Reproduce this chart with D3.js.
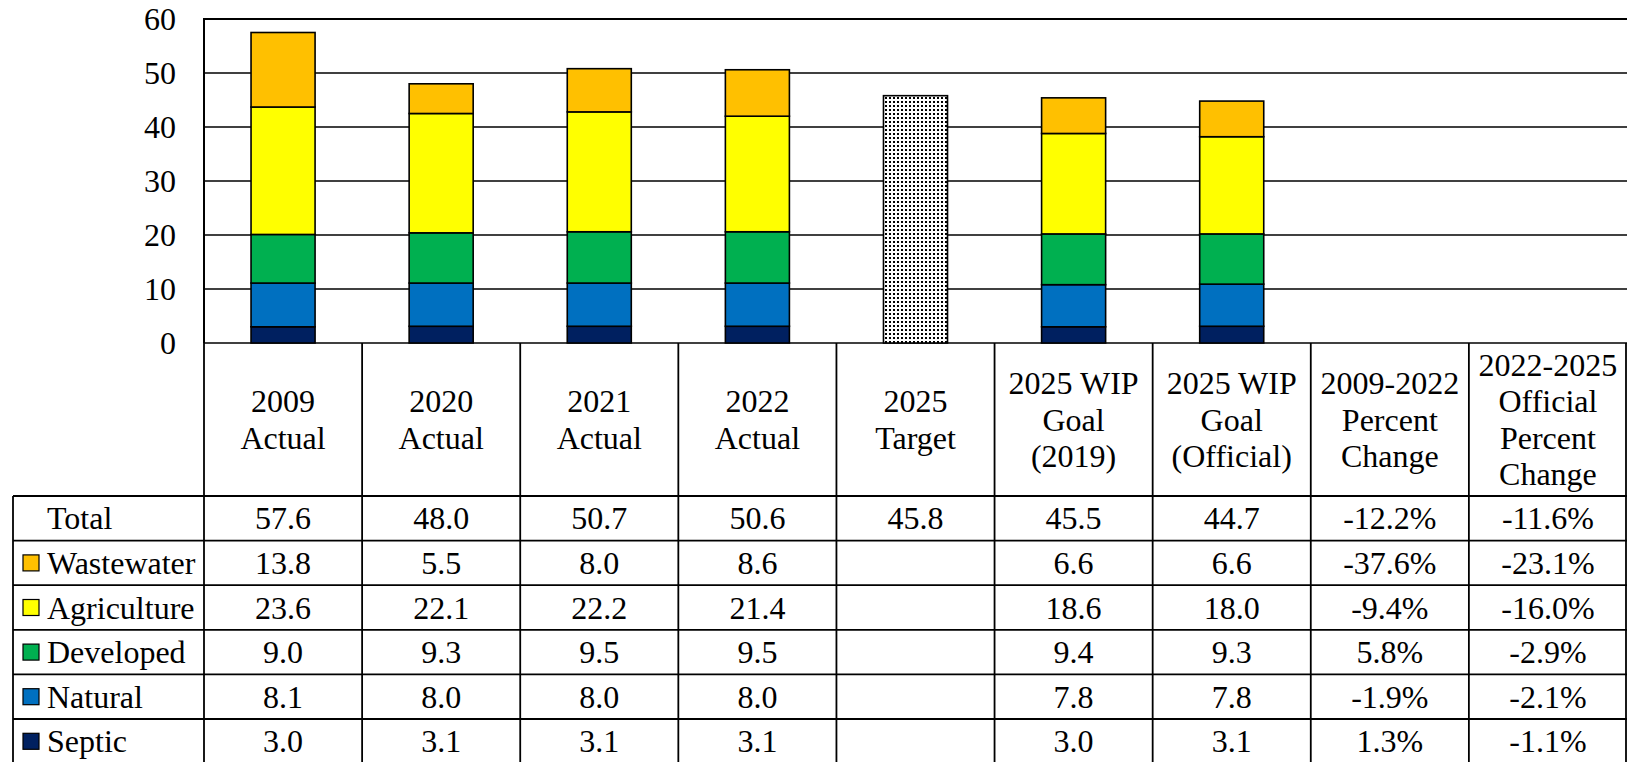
<!DOCTYPE html>
<html>
<head>
<meta charset="utf-8">
<script src="https://cdn.jsdelivr.net/npm/d3@7"></script>
<style>
  body { margin: 0; background: #fff; }
  svg { display: block; font-family: "Liberation Serif", "Times New Roman", serif; }
</style>
</head>
<body>
<svg width="1627" height="762"></svg>
<script>
// columns of the chart / table
var categories = ["2009 Actual", "2020 Actual", "2021 Actual", "2022 Actual", "2025 Target",
  "2025 WIP Goal (2019)", "2025 WIP Goal (Official)", "2009-2022 Percent Change", "2022-2025 Official Percent Change"];
var headerLines = [["2009", "Actual"], ["2020", "Actual"], ["2021", "Actual"], ["2022", "Actual"], ["2025", "Target"],
  ["2025 WIP", "Goal", "(2019)"], ["2025 WIP", "Goal", "(Official)"], ["2009-2022", "Percent", "Change"],
  ["2022-2025", "Official", "Percent", "Change"]];

// series values (bottom of stack first); null = no value
var septic      = [3.0, 3.1, 3.1, 3.1, null, 3.0, 3.1];
var natural     = [8.1, 8.0, 8.0, 8.0, null, 7.8, 7.8];
var developed   = [9.0, 9.3, 9.5, 9.5, null, 9.4, 9.3];
var agriculture = [23.6, 22.1, 22.2, 21.4, null, 18.6, 18.0];
var wastewater  = [13.8, 5.5, 8.0, 8.6, null, 6.6, 6.6];
var total       = [57.6, 48.0, 50.7, 50.6, 45.8, 45.5, 44.7];

// percent change columns (rows: Total, Wastewater, Agriculture, Developed, Natural, Septic)
var pct0922 = ["-12.2%", "-37.6%", "-9.4%", "5.8%", "-1.9%", "1.3%"];
var pct2225 = ["-11.6%", "-23.1%", "-16.0%", "-2.9%", "-2.1%", "-1.1%"];

var yTicks = [0, 10, 20, 30, 40, 50, 60];

var seriesNames = ["Septic", "Natural", "Developed", "Agriculture", "Wastewater"];
var seriesValues = [septic, natural, developed, agriculture, wastewater];
var colors = {Septic: "#002060", Natural: "#0070C0", Developed: "#00B050", Agriculture: "#FFFF00", Wastewater: "#FFC000"};

// table rows (top to bottom)
var rowNames = ["Total", "Wastewater", "Agriculture", "Developed", "Natural", "Septic"];
var rowValues = [total, wastewater, agriculture, developed, natural, septic];

var svg = d3.select("svg");
var plotLeft = 204, plotRight = 1627, plotTop = 19, zero = 343;
var headerBottom = 496, rowH = 44.6, tableLeft = 13;
var fs = 32;

var x = d3.scaleBand().domain(categories).range([plotLeft, plotRight]).padding(0);
var y = d3.scaleLinear().domain([0, 60]).range([zero, plotTop]);
var barW = x.bandwidth() * 0.405;

// dotted pattern for target bar
var pat = svg.append("defs").append("pattern")
  .attr("id", "dots").attr("patternUnits", "userSpaceOnUse")
  .attr("width", 4).attr("height", 4);
pat.append("rect").attr("width", 4).attr("height", 4).attr("fill", "#fff");
pat.append("rect").attr("x", 1).attr("y", 1).attr("width", 2).attr("height", 2).attr("fill", "#000");

// gridlines
svg.append("g").selectAll("line").data(yTicks).enter().append("line")
  .attr("x1", plotLeft).attr("x2", plotRight)
  .attr("y1", function(d) { return y(d); }).attr("y2", function(d) { return y(d); })
  .attr("stroke", "#000").attr("stroke-width", function(d) { return d == 60 ? 2.2 : 1.6; });
svg.append("line").attr("x1", plotLeft).attr("x2", plotLeft).attr("y1", plotTop - 1).attr("y2", zero)
  .attr("stroke", "#000").attr("stroke-width", 2);

// y tick labels
svg.append("g").selectAll("text").data(yTicks).enter().append("text")
  .attr("x", 176).attr("y", function(d) { return y(d) + 11; })
  .attr("text-anchor", "end").attr("font-size", fs).text(function(d) { return d; });

// stacked bars
var stackData = categories.slice(0, 7).map(function(c, i) {
  var o = {cat: c};
  seriesNames.forEach(function(s, j) { o[s] = seriesValues[j][i] || 0; });
  return o;
});
var stack = d3.stack().keys(seriesNames)(stackData);
svg.append("g").selectAll("g").data(stack).enter().append("g")
  .attr("fill", function(d) { return colors[d.key]; })
  .selectAll("rect").data(function(d) { return d.filter(function(p) { return p[1] > p[0]; }); })
  .enter().append("rect")
    .attr("x", function(d) { return x(d.data.cat) + (x.bandwidth() - barW) / 2; })
    .attr("y", function(d) { return y(d[1]); })
    .attr("width", barW)
    .attr("height", function(d) { return y(d[0]) - y(d[1]); })
    .attr("stroke", "#000").attr("stroke-width", 1.6);

// target bar (total only)
svg.append("g").selectAll("rect")
  .data(categories.slice(0, 7).filter(function(c, i) { return septic[i] == null; }))
  .enter().append("rect")
    .attr("x", function(c) { return x(c) + (x.bandwidth() - barW) / 2; })
    .attr("y", function(c) { return y(total[categories.indexOf(c)]); })
    .attr("width", barW)
    .attr("height", function(c) { return zero - y(total[categories.indexOf(c)]); })
    .attr("fill", "url(#dots)").attr("stroke", "#000").attr("stroke-width", 1.6);

// table
var tableBottom = headerBottom + rowH * rowNames.length;
var tg = svg.append("g");
var bounds = categories.map(function(c) { return x(c); }).concat([plotRight - 1]);
tg.selectAll(".vl").data(bounds).enter().append("line")
  .attr("x1", function(d) { return d; }).attr("x2", function(d) { return d; })
  .attr("y1", zero).attr("y2", tableBottom)
  .attr("stroke", "#000").attr("stroke-width", 1.8);
tg.append("line").attr("x1", tableLeft).attr("x2", tableLeft)
  .attr("y1", headerBottom).attr("y2", tableBottom)
  .attr("stroke", "#000").attr("stroke-width", 1.8);
tg.selectAll(".hl").data(d3.range(rowNames.length + 1)).enter().append("line")
  .attr("x1", tableLeft).attr("x2", plotRight)
  .attr("y1", function(i) { return headerBottom + i * rowH; })
  .attr("y2", function(i) { return headerBottom + i * rowH; })
  .attr("stroke", "#000").attr("stroke-width", 1.8);

// header text
var lineH = 36.5;
var headerMid = (zero + headerBottom) / 2;
categories.forEach(function(c, i) {
  var lines = headerLines[i];
  var t = tg.append("text").attr("text-anchor", "middle").attr("font-size", fs);
  lines.forEach(function(l, k) {
    t.append("tspan").attr("x", x(c) + x.bandwidth() / 2)
      .attr("y", headerMid - (lines.length - 1) / 2 * lineH + 11 + k * lineH)
      .text(l);
  });
});

// row labels with legend keys
rowNames.forEach(function(name, r) {
  var cy = headerBottom + r * rowH + rowH / 2;
  if (name != "Total") {
    tg.append("rect").attr("x", 23).attr("y", cy - 8).attr("width", 16).attr("height", 16)
      .attr("fill", colors[name]).attr("stroke", "#000").attr("stroke-width", 1.2);
  }
  tg.append("text").attr("x", 47).attr("y", cy + 11).attr("font-size", fs).text(name);

  var vals = rowValues[r].map(function(v) { return v == null ? "" : v.toFixed(1); })
    .concat([pct0922[r], pct2225[r]]);
  vals.forEach(function(v, i) {
    tg.append("text").attr("x", x(categories[i]) + x.bandwidth() / 2).attr("y", cy + 11)
      .attr("text-anchor", "middle").attr("font-size", fs).text(v);
  });
});
</script>
</body>
</html>
